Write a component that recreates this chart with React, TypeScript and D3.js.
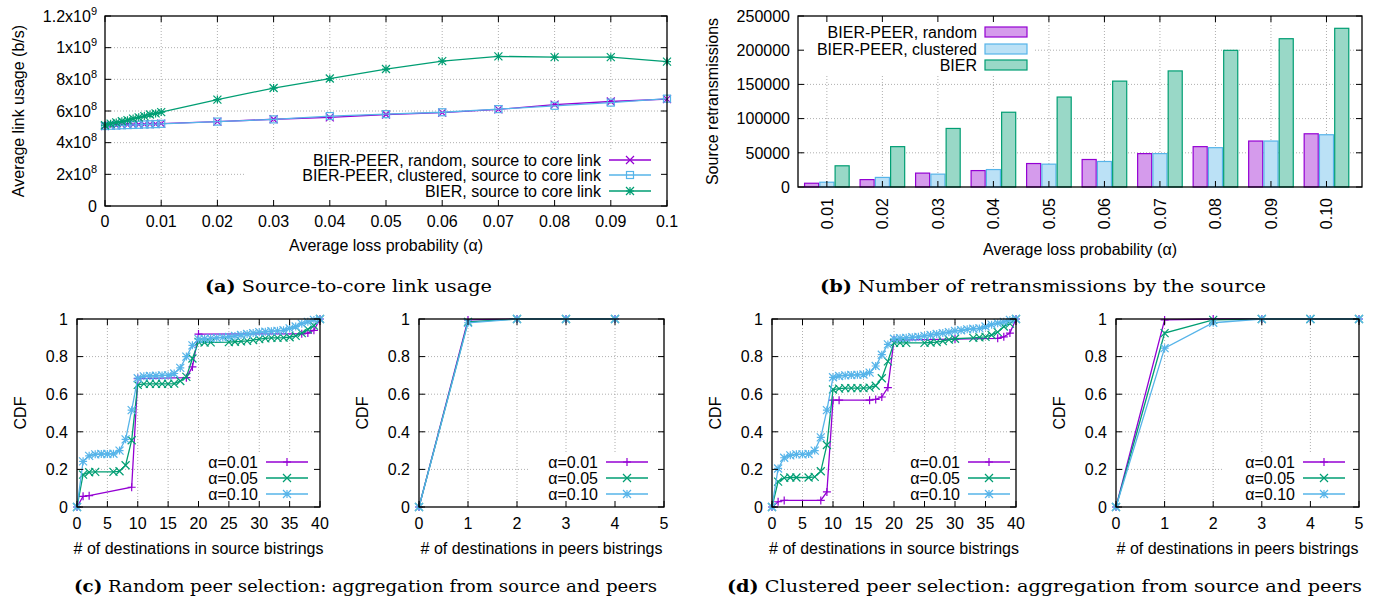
import React from 'react';
import * as d3 from 'd3';

const FONT = '"Liberation Sans", Arial, Helvetica, sans-serif';
const SERIF = '"DejaVu Serif", serif';
const PURPLE = '#9400d3';
const GREEN = '#009e73';
const BLUE = '#56b4e9';
const PURPLE_FILL = '#d59bec';
const BLUE_FILL = '#bbe1f6';
const GREEN_FILL = '#99d8c7';
const GRID = '#9a9a9a';

// ---------- (a) Source-to-core link usage ----------
const lossProb = [0, 0.001, 0.002, 0.003, 0.004, 0.005, 0.006, 0.007, 0.008, 0.009, 0.01, 0.02, 0.03, 0.04, 0.05, 0.06, 0.07, 0.08, 0.09, 0.1];
const usageRandom = [5.05e8, 5.08e8, 5.1e8, 5.12e8, 5.13e8, 5.14e8, 5.15e8, 5.16e8, 5.17e8, 5.18e8, 5.2e8, 5.33e8, 5.48e8, 5.6e8, 5.78e8, 5.9e8, 6.1e8, 6.4e8, 6.6e8, 6.75e8];
const usageClustered = [5.05e8, 5.07e8, 5.08e8, 5.1e8, 5.11e8, 5.12e8, 5.13e8, 5.15e8, 5.16e8, 5.17e8, 5.19e8, 5.33e8, 5.47e8, 5.68e8, 5.8e8, 5.92e8, 6.12e8, 6.33e8, 6.53e8, 6.78e8];
const usageBier = [5.1e8, 5.2e8, 5.28e8, 5.35e8, 5.42e8, 5.52e8, 5.6e8, 5.68e8, 5.78e8, 5.85e8, 5.93e8, 6.72e8, 7.45e8, 8.05e8, 8.65e8, 9.15e8, 9.45e8, 9.4e8, 9.4e8, 9.12e8];
const usageXTicks = [0, 0.01, 0.02, 0.03, 0.04, 0.05, 0.06, 0.07, 0.08, 0.09, 0.1];
const usageXLabels = ['0', '0.01', '0.02', '0.03', '0.04', '0.05', '0.06', '0.07', '0.08', '0.09', '0.1'];
const usageYTicks = [0, 2e8, 4e8, 6e8, 8e8, 1e9, 1.2e9];
const usageYBase = ['0', '2x10', '4x10', '6x10', '8x10', '1x10', '1.2x10'];
const usageYExp = ['', '8', '8', '8', '8', '9', '9'];

// ---------- (b) Number of retransmissions ----------
const alphaCats = ['0.01', '0.02', '0.03', '0.04', '0.05', '0.06', '0.07', '0.08', '0.09', '0.10'];
const retxRandom = [5500, 10800, 20300, 24000, 34300, 40200, 48800, 59000, 67200, 77800];
const retxClustered = [7000, 14000, 18800, 25500, 33400, 37300, 48800, 57500, 67200, 76400];
const retxBier = [31000, 59000, 85600, 109300, 131500, 154800, 169700, 199800, 216800, 232000];
const retxYTicks = [0, 50000, 100000, 150000, 200000, 250000];

// ---------- CDF panels ----------
type Pt = [number, number];
const randSrc001: Pt[] = [[0, 0], [1, 0.057], [2, 0.06], [9, 0.105], [10, 0.683], [18, 0.688], [19, 0.745], [20, 0.92], [37, 0.921], [38, 0.925], [39, 0.94], [40, 1]];
const randSrc005: Pt[] = [[0, 0], [1, 0.172], [2, 0.185], [3, 0.187], [6, 0.187], [7, 0.19], [8, 0.222], [9, 0.355], [10, 0.65], [11, 0.655], [12, 0.655], [13, 0.655], [14, 0.655], [15, 0.655], [16, 0.656], [17, 0.67], [18, 0.692], [19, 0.79], [20, 0.878], [21, 0.875], [22, 0.876], [25, 0.877], [26, 0.879], [27, 0.881], [28, 0.884], [29, 0.888], [30, 0.893], [31, 0.897], [32, 0.9], [33, 0.9], [34, 0.901], [35, 0.903], [36, 0.91], [37, 0.925], [38, 0.945], [39, 0.965], [40, 1]];
const randSrc010: Pt[] = [[0, 0], [1, 0.243], [2, 0.272], [3, 0.28], [4, 0.282], [5, 0.282], [6, 0.283], [7, 0.3], [8, 0.36], [9, 0.515], [10, 0.685], [11, 0.695], [12, 0.697], [13, 0.698], [14, 0.7], [15, 0.7], [16, 0.71], [17, 0.74], [18, 0.8], [19, 0.86], [20, 0.893], [21, 0.895], [22, 0.897], [23, 0.9], [24, 0.902], [25, 0.905], [26, 0.91], [27, 0.915], [28, 0.92], [29, 0.925], [30, 0.93], [31, 0.932], [32, 0.935], [33, 0.937], [34, 0.94], [35, 0.95], [36, 0.96], [37, 0.975], [38, 0.985], [39, 0.995], [40, 1]];
const randPeer001: Pt[] = [[0, 0], [1, 0.995], [2, 1], [3, 1], [4, 1]];
const randPeer005: Pt[] = [[0, 0], [1, 0.985], [2, 1], [3, 1], [4, 1]];
const randPeer010: Pt[] = [[0, 0], [1, 0.98], [2, 1], [3, 1], [4, 1]];
const clustSrc001: Pt[] = [[0, 0], [1, 0.028], [2, 0.035], [8, 0.035], [9, 0.08], [10, 0.568], [11, 0.568], [16, 0.568], [17, 0.572], [18, 0.585], [19, 0.635], [20, 0.888], [30, 0.893], [37, 0.897], [38, 0.905], [39, 0.925], [40, 1]];
const clustSrc005: Pt[] = [[0, 0], [1, 0.135], [2, 0.155], [3, 0.157], [4, 0.157], [6, 0.157], [7, 0.16], [8, 0.19], [9, 0.33], [10, 0.625], [11, 0.63], [12, 0.632], [13, 0.632], [14, 0.632], [15, 0.632], [16, 0.635], [17, 0.645], [18, 0.685], [19, 0.775], [20, 0.873], [21, 0.873], [22, 0.873], [25, 0.873], [26, 0.875], [27, 0.877], [28, 0.882], [29, 0.89], [30, 0.895], [33, 0.9], [34, 0.902], [35, 0.905], [36, 0.915], [37, 0.93], [38, 0.96], [39, 0.975], [40, 1]];
const clustSrc010: Pt[] = [[0, 0], [1, 0.205], [2, 0.262], [3, 0.275], [4, 0.28], [5, 0.28], [6, 0.282], [7, 0.3], [8, 0.37], [9, 0.515], [10, 0.69], [11, 0.697], [12, 0.7], [13, 0.702], [14, 0.703], [15, 0.705], [16, 0.715], [17, 0.75], [18, 0.81], [19, 0.865], [20, 0.895], [21, 0.898], [22, 0.9], [23, 0.903], [24, 0.905], [25, 0.91], [26, 0.915], [27, 0.92], [28, 0.925], [29, 0.93], [30, 0.937], [31, 0.94], [32, 0.945], [33, 0.948], [34, 0.95], [35, 0.96], [36, 0.97], [37, 0.978], [38, 0.985], [39, 0.995], [40, 1]];
const clustPeer001: Pt[] = [[0, 0], [1, 0.995], [2, 1], [3, 1], [4, 1], [5, 1]];
const clustPeer005: Pt[] = [[0, 0], [1, 0.925], [2, 0.995], [3, 1], [4, 1], [5, 1]];
const clustPeer010: Pt[] = [[0, 0], [1, 0.845], [2, 0.98], [3, 1], [4, 1], [5, 1]];

const cdfYTicks = [0, 0.2, 0.4, 0.6, 0.8, 1];
const cdfYLabels = ['0', '0.2', '0.4', '0.6', '0.8', '1'];
const srcXTicks = [0, 5, 10, 15, 20, 25, 30, 35, 40];
const peerXTicks = [0, 1, 2, 3, 4, 5];
const alphaLabels = ['α=0.01', 'α=0.05', 'α=0.10'];

type MarkerKind = 'plus' | 'cross' | 'star' | 'square';

function Marker({ kind, x, y, color, s = 4 }: { kind: MarkerKind; x: number; y: number; color: string; s?: number }) {
  const sw = 1.2;
  if (kind === 'square') {
    return <rect x={x - s + 0.5} y={y - s + 0.5} width={2 * s - 1} height={2 * s - 1} fill="none" stroke={color} strokeWidth={sw} />;
  }
  const parts: string[] = [];
  if (kind === 'plus' || kind === 'star') parts.push(`M${x - s},${y}H${x + s}M${x},${y - s}V${y + s}`);
  if (kind === 'cross' || kind === 'star') parts.push(`M${x - s},${y - s}L${x + s},${y + s}M${x - s},${y + s}L${x + s},${y - s}`);
  return <path d={parts.join('')} stroke={color} strokeWidth={sw} fill="none" />;
}

interface Frame { l: number; r: number; t: number; b: number }
interface Series { name: string; color: string; marker: MarkerKind; pts: Pt[] }

function FrameAndGrid({ f, xs, ys, xTicks, yTicks, cover, skipXGridEdge = true }: any) {
  const items: any[] = [];
  xTicks.forEach((t: number, i: number) => {
    const x = xs(t);
    if (Math.abs(x - f.l) > 1 && Math.abs(x - f.r) > 1) {
      items.push(<line key={'gx' + i} x1={x} x2={x} y1={f.t} y2={f.b} stroke={GRID} strokeWidth={0.8} strokeDasharray="1,2" />);
    }
  });
  yTicks.forEach((t: number, i: number) => {
    const y = ys(t);
    if (Math.abs(y - f.t) > 1 && Math.abs(y - f.b) > 1) {
      items.push(<line key={'gy' + i} x1={f.l} x2={f.r} y1={y} y2={y} stroke={GRID} strokeWidth={0.8} strokeDasharray="1,2" />);
    }
  });
  return (
    <g>
      {items}
      {cover && <rect x={cover.x0} y={cover.y0} width={cover.x1 - cover.x0} height={cover.y1 - cover.y0} fill="#fff" />}
    </g>
  );
}

function FrameTicks({ f, xs, ys, xTicks, yTicks, noXTicks = false }: any) {
  const tl = 6;
  const d: string[] = [];
  if (!noXTicks) xTicks.forEach((t: number) => {
    const x = xs(t);
    d.push(`M${x},${f.b}V${f.b - tl}M${x},${f.t}V${f.t + tl}`);
  });
  yTicks.forEach((t: number) => {
    const y = ys(t);
    d.push(`M${f.l},${y}H${f.l + tl}M${f.r},${y}H${f.r - tl}`);
  });
  return (
    <g>
      <path d={d.join('')} stroke="#000" strokeWidth={1} fill="none" />
      <rect x={f.l} y={f.t} width={f.r - f.l} height={f.b - f.t} fill="none" stroke="#000" strokeWidth={1.3} />
    </g>
  );
}

function LineLegend({ series, textEnd, rows }: { series: Series[]; textEnd: number; rows: number[] }) {
  return (
    <g>
      {series.map((s, i) => (
        <g key={i}>
          <text x={textEnd} y={rows[i]} dy="0.36em" textAnchor="end" fontFamily={FONT} fontSize={16}>{s.name}</text>
          <line x1={textEnd + 8} x2={textEnd + 50} y1={rows[i]} y2={rows[i]} stroke={s.color} strokeWidth={1.3} />
          <Marker kind={s.marker} x={textEnd + 29} y={rows[i]} color={s.color} />
        </g>
      ))}
    </g>
  );
}

function CdfPanel({ f, xMax, xTicks, series, legendEnd, cover, xTitle }: any) {
  const xs = d3.scaleLinear().domain([0, xMax]).range([f.l, f.r]);
  const ys = d3.scaleLinear().domain([0, 1]).range([f.b, f.t]);
  const line = d3.line<Pt>().x(d => xs(d[0])).y(d => ys(d[1]));
  return (
    <g>
      <FrameAndGrid f={f} xs={xs} ys={ys} xTicks={xTicks} yTicks={cdfYTicks} cover={cover} />
      {series.map((s: Series, i: number) => (
        <g key={i}>
          <path d={line(s.pts) || ''} fill="none" stroke={s.color} strokeWidth={1.3} />
          {s.pts.map((p, j) => <Marker key={j} kind={s.marker} x={xs(p[0])} y={ys(p[1])} color={s.color} />)}
        </g>
      ))}
      <FrameTicks f={f} xs={xs} ys={ys} xTicks={xTicks} yTicks={cdfYTicks} />
      {cdfYTicks.map((t, i) => (
        <text key={'yl' + i} x={f.l - 9} y={ys(t)} dy="0.36em" textAnchor="end" fontFamily={FONT} fontSize={16}>{cdfYLabels[i]}</text>
      ))}
      {xTicks.map((t: number, i: number) => (
        <text key={'xl' + i} x={xs(t)} y={f.b + 16} dy="0.36em" textAnchor="middle" fontFamily={FONT} fontSize={16}>{String(t)}</text>
      ))}
      <text x={(f.l + f.r) / 2} y={f.b + 41} dy="0.36em" textAnchor="middle" fontFamily={FONT} fontSize={16}>{xTitle}</text>
      <text transform={`translate(${f.l - 57},${(f.t + f.b) / 2}) rotate(-90)`} dy="0.36em" textAnchor="middle" fontFamily={FONT} fontSize={16}>CDF</text>
      <LineLegend series={series} textEnd={legendEnd} rows={[462, 478, 494]} />
    </g>
  );
}

function PanelA() {
  const f: Frame = { l: 105, r: 667, t: 16, b: 206 };
  const xs = d3.scaleLinear().domain([0, 0.1]).range([f.l, f.r]);
  const ys = d3.scaleLinear().domain([0, 1.2e9]).range([f.b, f.t]);
  const mk = (v: number[]): Pt[] => lossProb.map((x, i) => [x, v[i]] as Pt);
  const series: Series[] = [
    { name: 'BIER-PEER, random, source to core link', color: PURPLE, marker: 'cross', pts: mk(usageRandom) },
    { name: 'BIER-PEER, clustered, source to core link', color: BLUE, marker: 'square', pts: mk(usageClustered) },
    { name: 'BIER, source to core link', color: GREEN, marker: 'star', pts: mk(usageBier) },
  ];
  const line = d3.line<Pt>().x(d => xs(d[0])).y(d => ys(d[1]));
  return (
    <g>
      <FrameAndGrid f={f} xs={xs} ys={ys} xTicks={usageXTicks} yTicks={usageYTicks} cover={{ x0: 245, x1: f.r, y0: 150, y1: f.b }} />
      {series.map((s, i) => (
        <g key={i}>
          <path d={line(s.pts) || ''} fill="none" stroke={s.color} strokeWidth={1.3} />
          {s.pts.map((p, j) => <Marker key={j} kind={s.marker} x={xs(p[0])} y={ys(p[1])} color={s.color} />)}
        </g>
      ))}
      <FrameTicks f={f} xs={xs} ys={ys} xTicks={usageXTicks} yTicks={usageYTicks} />
      {usageYTicks.map((t, i) => (
        <text key={i} x={f.l - 8} y={ys(t)} dy="0.36em" textAnchor="end" fontFamily={FONT} fontSize={16}>
          {usageYBase[i]}
          {usageYExp[i] && <tspan dy="-7" fontSize={11}>{usageYExp[i]}</tspan>}
        </text>
      ))}
      {usageXTicks.map((t, i) => (
        <text key={i} x={xs(t)} y={f.b + 15} dy="0.36em" textAnchor="middle" fontFamily={FONT} fontSize={16}>{usageXLabels[i]}</text>
      ))}
      <text x={(f.l + f.r) / 2} y={245} dy="0.36em" textAnchor="middle" fontFamily={FONT} fontSize={16}>Average loss probability (α)</text>
      <text transform={`translate(18,${(f.t + f.b) / 2}) rotate(-90)`} dy="0.36em" textAnchor="middle" fontFamily={FONT} fontSize={16}>Average link usage (b/s)</text>
      <LineLegend series={series} textEnd={601} rows={[160, 175, 191]} />
    </g>
  );
}

function PanelB() {
  const f: Frame = { l: 798, r: 1362, t: 16, b: 187 };
  const xs = d3.scaleLinear().domain([-0.52, 9.64]).range([f.l, f.r]);
  const ys = d3.scaleLinear().domain([0, 250000]).range([f.b, f.t]);
  const idx = alphaCats.map((_, i) => i);
  const bw = xs(0.275) - xs(0);
  const groups = [
    { name: 'BIER-PEER, random', vals: retxRandom, stroke: PURPLE, fill: PURPLE_FILL, off: -1 },
    { name: 'BIER-PEER, clustered', vals: retxClustered, stroke: BLUE, fill: BLUE_FILL, off: 0 },
    { name: 'BIER', vals: retxBier, stroke: GREEN, fill: GREEN_FILL, off: 1 },
  ];
  const legendRows = [32, 49, 65];
  return (
    <g>
      <FrameAndGrid f={f} xs={xs} ys={ys} xTicks={idx} yTicks={retxYTicks} cover={{ x0: f.l, x1: 1033, y0: f.t, y1: 76 }} />
      {groups.map((g, gi) => (
        <g key={gi}>
          {g.vals.map((v, i) => {
            const cx = xs(i) + g.off * bw;
            return <rect key={i} x={cx - bw / 2 + 0.6} y={ys(v)} width={bw - 1.2} height={ys(0) - ys(v)} fill={g.fill} stroke={g.stroke} strokeWidth={1.2} />;
          })}
        </g>
      ))}
      <FrameTicks f={f} xs={xs} ys={ys} xTicks={idx} yTicks={retxYTicks} />
      {retxYTicks.map((t, i) => (
        <text key={i} x={f.l - 8} y={ys(t)} dy="0.36em" textAnchor="end" fontFamily={FONT} fontSize={16}>{String(t)}</text>
      ))}
      {alphaCats.map((c, i) => (
        <text key={i} transform={`translate(${xs(i)},${f.b + 11}) rotate(-90)`} dy="0.36em" textAnchor="end" fontFamily={FONT} fontSize={16}>{c}</text>
      ))}
      <text x={1080} y={249} dy="0.36em" textAnchor="middle" fontFamily={FONT} fontSize={16}>Average loss probability (α)</text>
      <text transform={`translate(712,${(f.t + f.b) / 2}) rotate(-90)`} dy="0.36em" textAnchor="middle" fontFamily={FONT} fontSize={16}>Source retransmissions</text>
      {groups.map((g, i) => (
        <g key={i}>
          <text x={977} y={legendRows[i]} dy="0.36em" textAnchor="end" fontFamily={FONT} fontSize={16}>{g.name}</text>
          <rect x={985} y={legendRows[i] - 5} width={42} height={10} fill={g.fill} stroke={g.stroke} strokeWidth={1.2} />
        </g>
      ))}
    </g>
  );
}

function Caption({ x, y, label, text, width }: { x: number; y: number; label: string; text: string; width: number }) {
  return (
    <text x={x} y={y} fontFamily={SERIF} fontSize={16.5} textLength={width} lengthAdjust="spacingAndGlyphs">
      <tspan fontWeight="bold">{label}</tspan>
      <tspan>{' ' + text}</tspan>
    </text>
  );
}

export default function App() {
  const mkSeries = (a: Pt[], b: Pt[], c: Pt[]): Series[] => [
    { name: alphaLabels[0], color: PURPLE, marker: 'plus', pts: a },
    { name: alphaLabels[1], color: GREEN, marker: 'cross', pts: b },
    { name: alphaLabels[2], color: BLUE, marker: 'star', pts: c },
  ];
  return (
    <svg width={1381} height={603} style={{ position: 'absolute', left: 0, top: 0, background: '#fff' }}>
      <rect x={0} y={0} width={1381} height={603} fill="#fff" />
      <PanelA />
      <PanelB />
      <CdfPanel f={{ l: 77, r: 320, t: 319, b: 507 }} xMax={40} xTicks={srcXTicks} series={mkSeries(randSrc001, randSrc005, randSrc010)} legendEnd={258} cover={{ x0: 185, x1: 320, y0: 452, y1: 507 }} xTitle="# of destinations in source bistrings" />
      <CdfPanel f={{ l: 419, r: 664, t: 319, b: 507 }} xMax={5} xTicks={peerXTicks} series={mkSeries(randPeer001, randPeer005, randPeer010)} legendEnd={598} cover={{ x0: 530, x1: 664, y0: 452, y1: 507 }} xTitle="# of destinations in peers bistrings" />
      <CdfPanel f={{ l: 772, r: 1016, t: 319, b: 507 }} xMax={40} xTicks={srcXTicks} series={mkSeries(clustSrc001, clustSrc005, clustSrc010)} legendEnd={960} cover={{ x0: 882, x1: 1016, y0: 452, y1: 507 }} xTitle="# of destinations in source bistrings" />
      <CdfPanel f={{ l: 1116, r: 1359, t: 319, b: 507 }} xMax={5} xTicks={peerXTicks} series={mkSeries(clustPeer001, clustPeer005, clustPeer010)} legendEnd={1295} cover={{ x0: 1224, x1: 1359, y0: 452, y1: 507 }} xTitle="# of destinations in peers bistrings" />
      <Caption x={205} y={292} label="(a)" text="Source-to-core link usage" width={287} />
      <Caption x={820} y={292} label="(b)" text="Number of retransmissions by the source" width={446} />
      <Caption x={74} y={592} label="(c)" text="Random peer selection: aggregation from source and peers" width={583} />
      <Caption x={727} y={592} label="(d)" text="Clustered peer selection: aggregation from source and peers" width={635} />
    </svg>
  );
}
